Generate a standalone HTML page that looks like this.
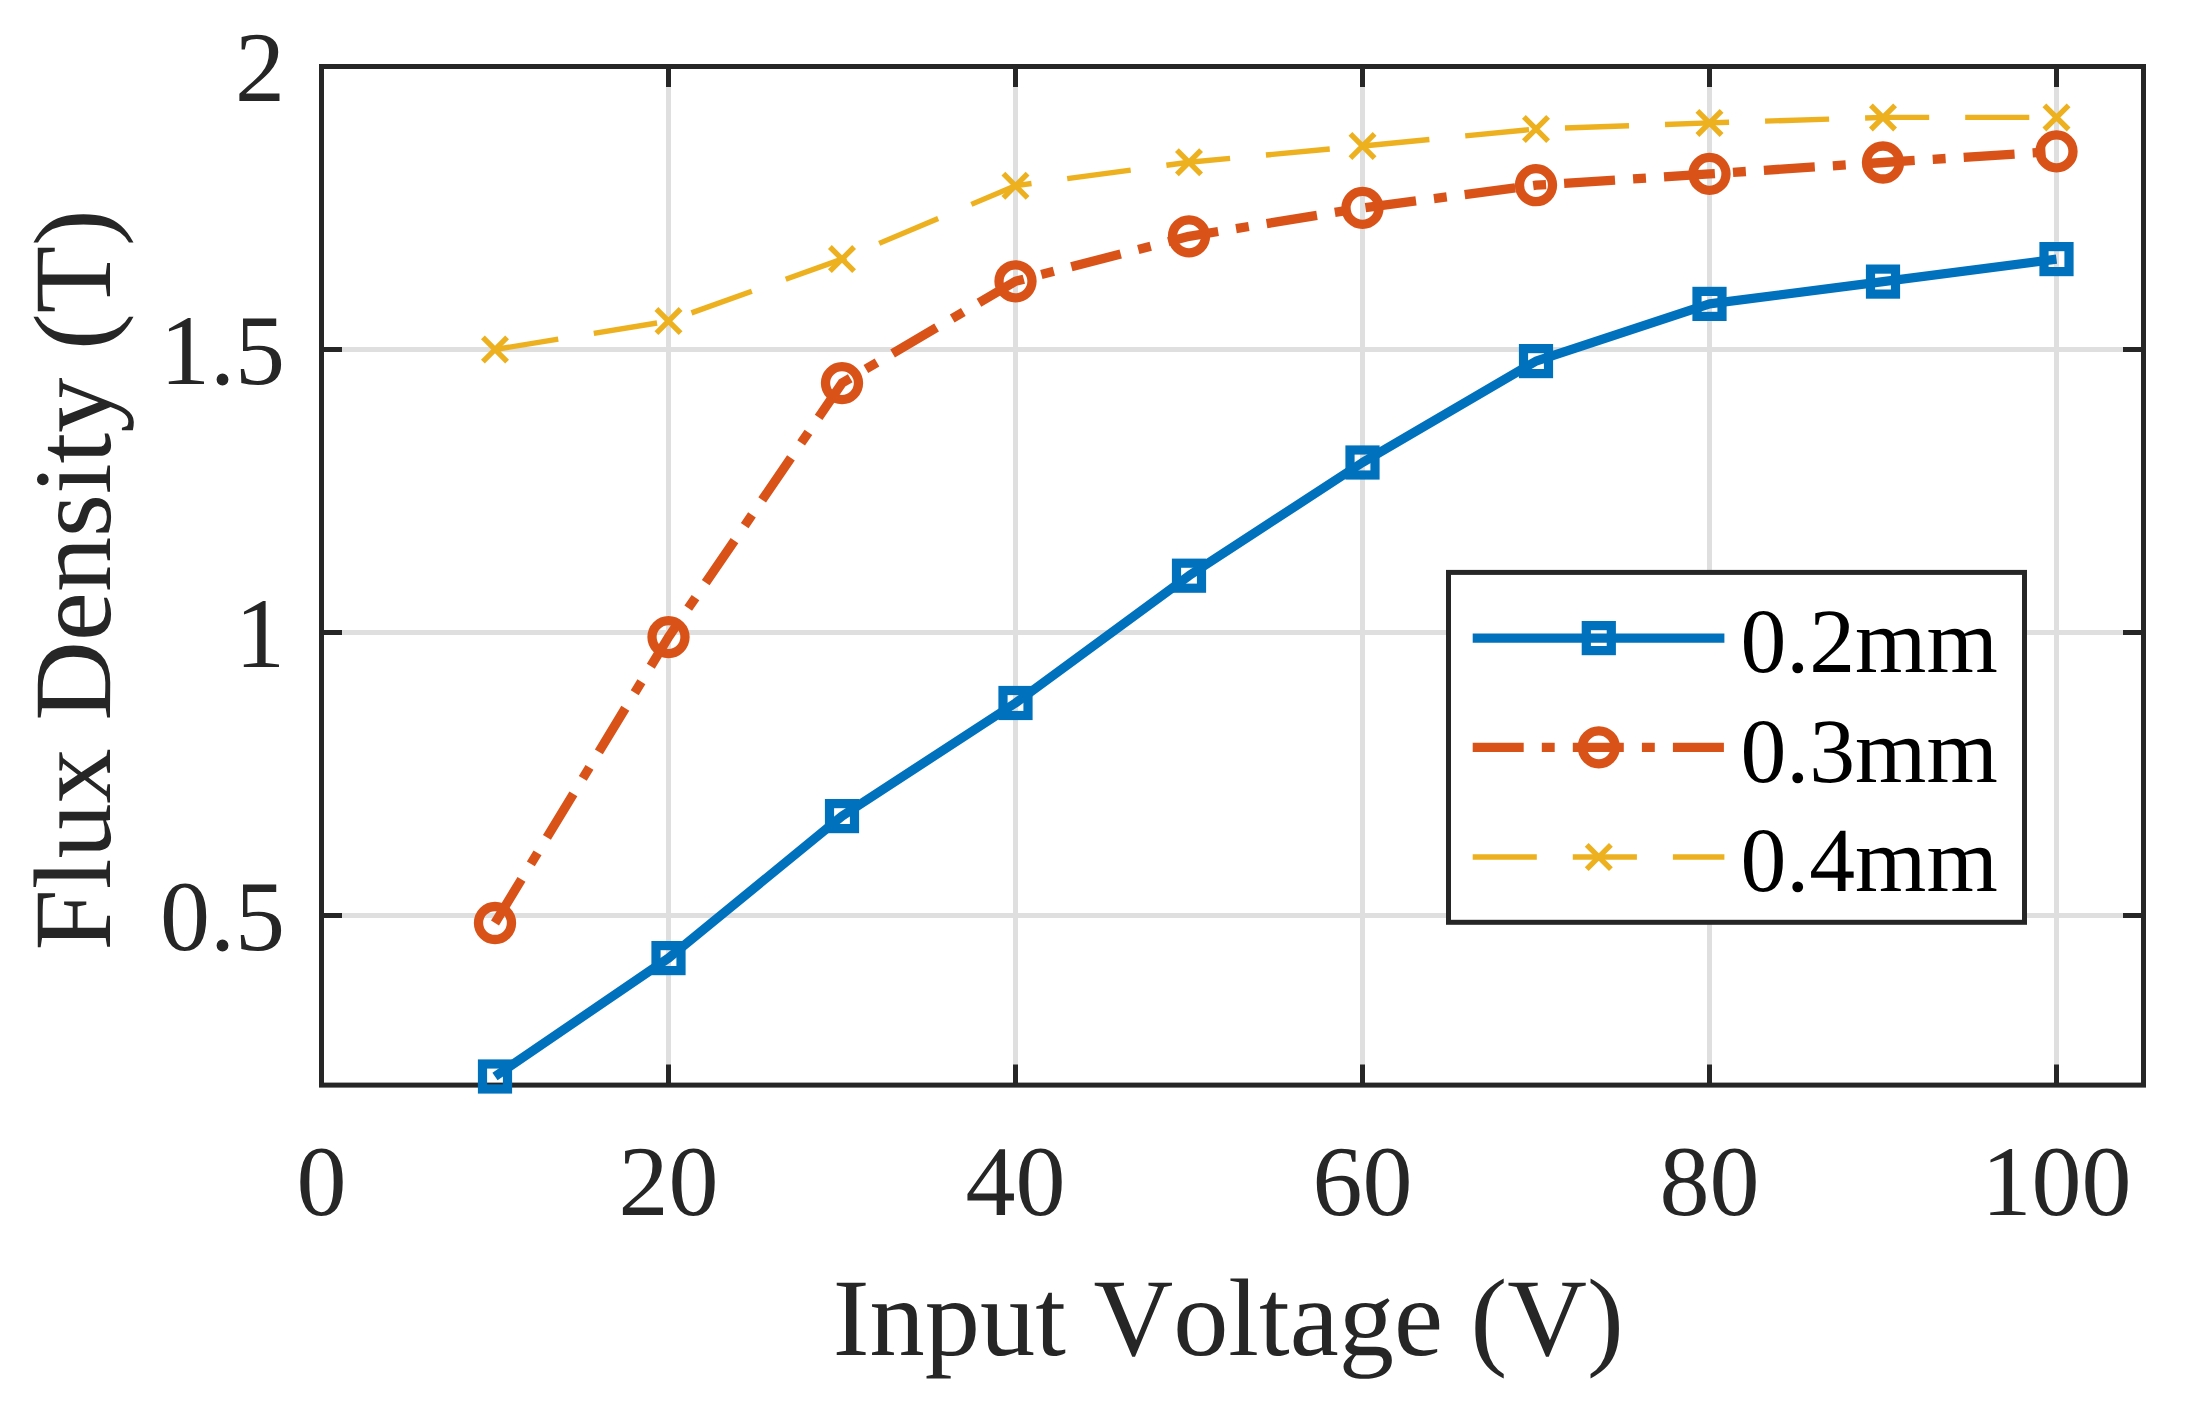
<!DOCTYPE html>
<html><head><meta charset="utf-8"><title>Flux Density vs Input Voltage</title>
<style>html,body{margin:0;padding:0;background:#fff}svg{display:block}text{font-kerning:none;text-rendering:geometricPrecision}</style></head>
<body>
<svg width="2187" height="1409" viewBox="0 0 2187 1409">
<rect width="2187" height="1409" fill="#fff"/>
<path d="M668.50 66.5V1085.1M1015.50 66.5V1085.1M1362.50 66.5V1085.1M1709.50 66.5V1085.1M2056.50 66.5V1085.1M321.5 349.50H2143.5M321.5 632.50H2143.5M321.5 915.50H2143.5" stroke="#dfdfdf" stroke-width="5.0" fill="none"/>
<path d="M668.50 1085.1v-20.5M668.50 66.5v20.5M1015.50 1085.1v-20.5M1015.50 66.5v20.5M1362.50 1085.1v-20.5M1362.50 66.5v20.5M1709.50 1085.1v-20.5M1709.50 66.5v20.5M2056.50 1085.1v-20.5M2056.50 66.5v20.5M321.5 349.50h20.5M2143.5 349.50h-20.5M321.5 632.50h20.5M2143.5 632.50h-20.5M321.5 915.50h20.5M2143.5 915.50h-20.5" stroke="#262626" stroke-width="5.0" fill="none"/>
<rect x="321.5" y="66.5" width="1822.00" height="1018.60" fill="none" stroke="#262626" stroke-width="5.0"/>
<polyline points="495.0,1076.5 668.5,958.1 842.0,816.1 1015.5,703.0 1189.0,575.7 1362.5,462.5 1536.0,361.1 1709.5,303.9 1883.0,281.6 2056.5,259.1" fill="none" stroke="#0072bd" stroke-width="9.2" stroke-linejoin="round"/>
<polyline points="495.0,923.0 668.5,637.1 842.0,383.1 1015.5,281.3 1189.0,236.3 1362.5,207.9 1536.0,185.2 1709.5,173.9 1883.0,162.5 2056.5,151.4" fill="none" stroke="#d95319" stroke-width="9.3" stroke-linejoin="round" stroke-dasharray="51 18.1 12.9 18.1"/>
<polyline points="495.0,349.5 668.5,321.1 842.0,259.1 1015.5,185.7 1189.0,162.2 1362.5,146.0 1536.0,129.0 1709.5,122.9 1883.0,117.4 2056.5,117.4" fill="none" stroke="#edb120" stroke-width="5.4" stroke-linejoin="round" stroke-dasharray="64.1 36"/>
<rect x="482.5" y="1064.0" width="25.0" height="25.0" fill="none" stroke="#0072bd" stroke-width="9.2"/>
<rect x="656.0" y="945.6" width="25.0" height="25.0" fill="none" stroke="#0072bd" stroke-width="9.2"/>
<rect x="829.5" y="803.6" width="25.0" height="25.0" fill="none" stroke="#0072bd" stroke-width="9.2"/>
<rect x="1003.0" y="690.5" width="25.0" height="25.0" fill="none" stroke="#0072bd" stroke-width="9.2"/>
<rect x="1176.5" y="563.2" width="25.0" height="25.0" fill="none" stroke="#0072bd" stroke-width="9.2"/>
<rect x="1350.0" y="450.0" width="25.0" height="25.0" fill="none" stroke="#0072bd" stroke-width="9.2"/>
<rect x="1523.5" y="348.6" width="25.0" height="25.0" fill="none" stroke="#0072bd" stroke-width="9.2"/>
<rect x="1697.0" y="291.4" width="25.0" height="25.0" fill="none" stroke="#0072bd" stroke-width="9.2"/>
<rect x="1870.5" y="269.1" width="25.0" height="25.0" fill="none" stroke="#0072bd" stroke-width="9.2"/>
<rect x="2044.0" y="246.6" width="25.0" height="25.0" fill="none" stroke="#0072bd" stroke-width="9.2"/>
<circle cx="495.0" cy="923.0" r="16.5" fill="none" stroke="#d95319" stroke-width="9.3"/>
<circle cx="668.5" cy="637.1" r="16.5" fill="none" stroke="#d95319" stroke-width="9.3"/>
<circle cx="842.0" cy="383.1" r="16.5" fill="none" stroke="#d95319" stroke-width="9.3"/>
<circle cx="1015.5" cy="281.3" r="16.5" fill="none" stroke="#d95319" stroke-width="9.3"/>
<circle cx="1189.0" cy="236.3" r="16.5" fill="none" stroke="#d95319" stroke-width="9.3"/>
<circle cx="1362.5" cy="207.9" r="16.5" fill="none" stroke="#d95319" stroke-width="9.3"/>
<circle cx="1536.0" cy="185.2" r="16.5" fill="none" stroke="#d95319" stroke-width="9.3"/>
<circle cx="1709.5" cy="173.9" r="16.5" fill="none" stroke="#d95319" stroke-width="9.3"/>
<circle cx="1883.0" cy="162.5" r="16.5" fill="none" stroke="#d95319" stroke-width="9.3"/>
<circle cx="2056.5" cy="151.4" r="16.5" fill="none" stroke="#d95319" stroke-width="9.3"/>
<path d="M482.9 337.4L507.1 361.6M482.9 361.6L507.1 337.4" fill="none" stroke="#edb120" stroke-width="5.4"/>
<path d="M656.4 309.0L680.6 333.2M656.4 333.2L680.6 309.0" fill="none" stroke="#edb120" stroke-width="5.4"/>
<path d="M829.9 247.0L854.1 271.2M829.9 271.2L854.1 247.0" fill="none" stroke="#edb120" stroke-width="5.4"/>
<path d="M1003.4 173.6L1027.6 197.8M1003.4 197.8L1027.6 173.6" fill="none" stroke="#edb120" stroke-width="5.4"/>
<path d="M1176.9 150.1L1201.1 174.3M1176.9 174.3L1201.1 150.1" fill="none" stroke="#edb120" stroke-width="5.4"/>
<path d="M1350.4 133.9L1374.6 158.1M1350.4 158.1L1374.6 133.9" fill="none" stroke="#edb120" stroke-width="5.4"/>
<path d="M1523.9 116.9L1548.1 141.1M1523.9 141.1L1548.1 116.9" fill="none" stroke="#edb120" stroke-width="5.4"/>
<path d="M1697.4 110.8L1721.6 135.0M1697.4 135.0L1721.6 110.8" fill="none" stroke="#edb120" stroke-width="5.4"/>
<path d="M1870.9 105.3L1895.1 129.5M1870.9 129.5L1895.1 105.3" fill="none" stroke="#edb120" stroke-width="5.4"/>
<path d="M2044.4 105.3L2068.6 129.5M2044.4 129.5L2068.6 105.3" fill="none" stroke="#edb120" stroke-width="5.4"/>
<rect x="1448.5" y="572.4" width="576.0" height="349.9" fill="#fff" stroke="#262626" stroke-width="5.0"/>
<path d="M1472.7 638.1H1724.4" stroke="#0072bd" stroke-width="9.2"/>
<path d="M1472.7 747.3H1724.4" stroke="#d95319" stroke-width="9.3" stroke-dasharray="51 18.1 12.9 18.1"/>
<path d="M1472.7 857.0H1724.4" stroke="#edb120" stroke-width="5.4" stroke-dasharray="64.1 36"/>
<rect x="1586.3" y="625.6" width="25.0" height="25.0" fill="none" stroke="#0072bd" stroke-width="9.2"/>
<circle cx="1598.8" cy="747.3" r="16.5" fill="none" stroke="#d95319" stroke-width="9.3"/>
<path d="M1586.7 844.9L1610.9 869.1M1586.7 869.1L1610.9 844.9" fill="none" stroke="#edb120" stroke-width="5.4"/>
<text x="1740.5" y="672.4" font-family="Liberation Serif, Times New Roman, serif" font-size="91.7" fill="#000">0.2mm</text>
<text x="1740.5" y="781.6" font-family="Liberation Serif, Times New Roman, serif" font-size="91.7" fill="#000">0.3mm</text>
<text x="1740.5" y="891.3" font-family="Liberation Serif, Times New Roman, serif" font-size="91.7" fill="#000">0.4mm</text>
<text x="321.5" y="1215" font-family="Liberation Serif, Times New Roman, serif" font-size="100" fill="#262626" text-anchor="middle">0</text>
<text x="668.5" y="1215" font-family="Liberation Serif, Times New Roman, serif" font-size="100" fill="#262626" text-anchor="middle">20</text>
<text x="1015.5" y="1215" font-family="Liberation Serif, Times New Roman, serif" font-size="100" fill="#262626" text-anchor="middle">40</text>
<text x="1362.5" y="1215" font-family="Liberation Serif, Times New Roman, serif" font-size="100" fill="#262626" text-anchor="middle">60</text>
<text x="1709.5" y="1215" font-family="Liberation Serif, Times New Roman, serif" font-size="100" fill="#262626" text-anchor="middle">80</text>
<text x="2056.5" y="1215" font-family="Liberation Serif, Times New Roman, serif" font-size="100" fill="#262626" text-anchor="middle">100</text>
<text x="285" y="100.8" font-family="Liberation Serif, Times New Roman, serif" font-size="100" fill="#262626" text-anchor="end">2</text>
<text x="285" y="383.8" font-family="Liberation Serif, Times New Roman, serif" font-size="100" fill="#262626" text-anchor="end">1.5</text>
<text x="285" y="666.8" font-family="Liberation Serif, Times New Roman, serif" font-size="100" fill="#262626" text-anchor="end">1</text>
<text x="285" y="949.8" font-family="Liberation Serif, Times New Roman, serif" font-size="100" fill="#262626" text-anchor="end">0.5</text>
<text x="1228.3" y="1355.0" font-family="Liberation Serif, Times New Roman, serif" font-size="110.4" fill="#262626" text-anchor="middle">Input Voltage (V)</text>
<text transform="translate(110 579.9) rotate(-90)" font-family="Liberation Serif, Times New Roman, serif" font-size="110.3" fill="#262626" text-anchor="middle">Flux Density (T)</text>
</svg>
</body></html>
